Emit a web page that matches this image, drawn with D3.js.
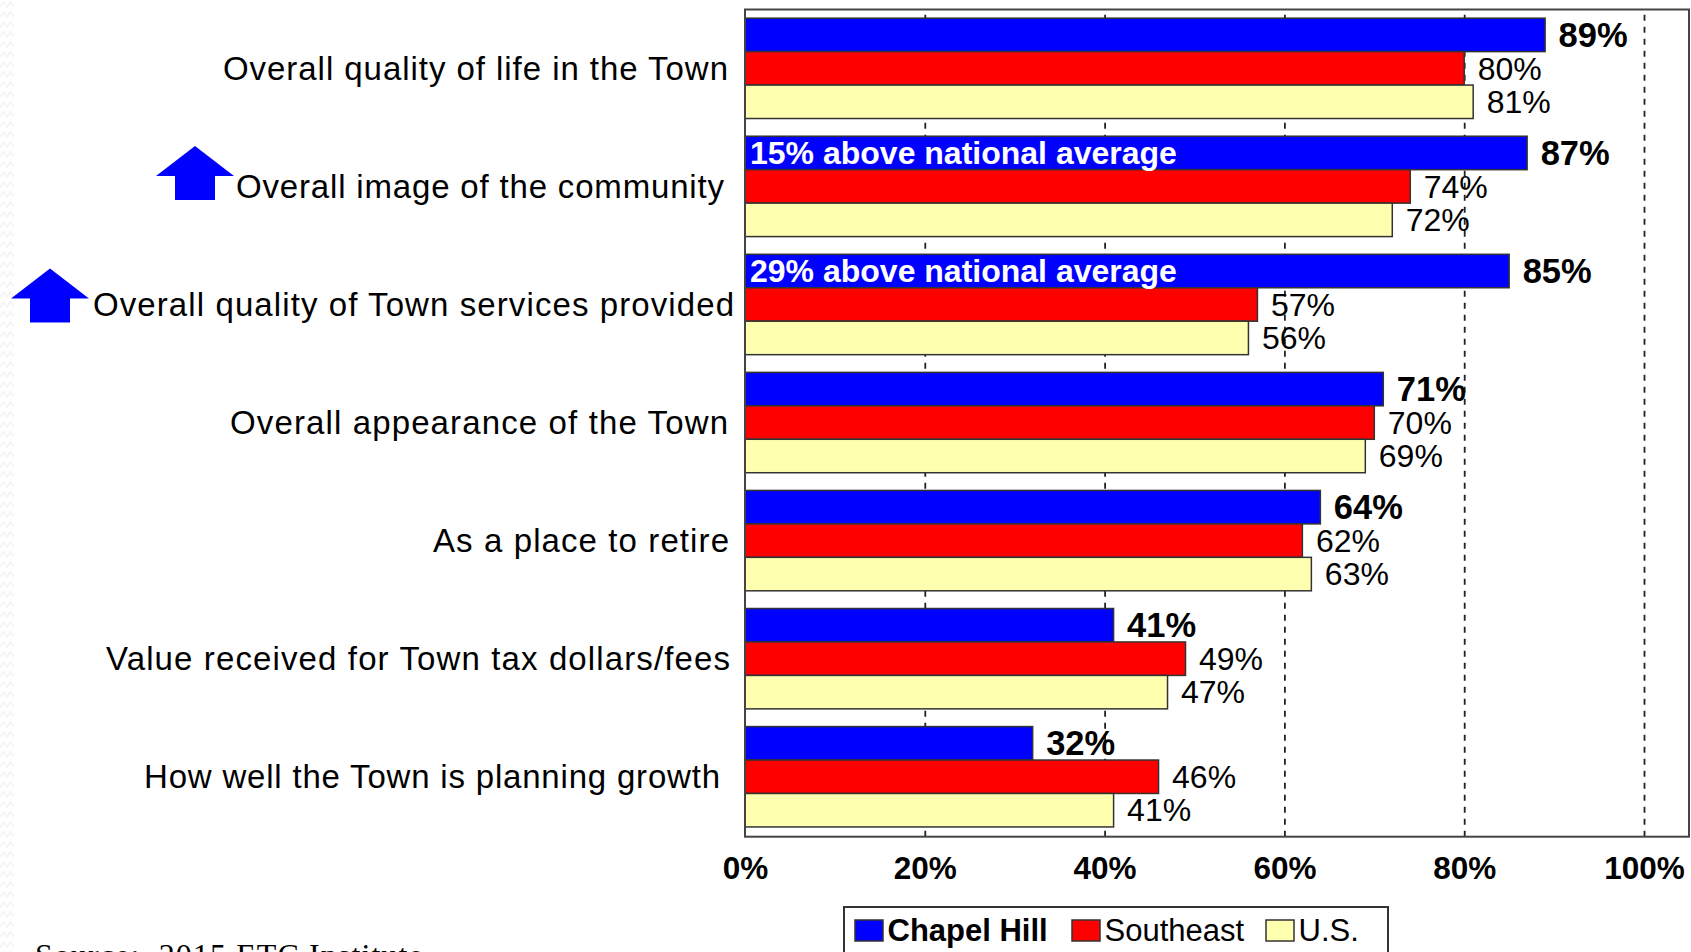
<!DOCTYPE html>
<html>
<head>
<meta charset="utf-8">
<script src="https://cdn.jsdelivr.net/npm/d3@7"></script>
<style>
  html, body { margin: 0; background: #fff; overflow: hidden; }
  text { font-family: "Liberation Sans", Arial, sans-serif; fill: #000; }
</style>
</head>
<body>
<div id="chart"></div>
<script>
// Satisfaction bars, Chapel Hill vs Southeast vs U.S.
const categories = [
  "Overall quality of life in the Town",
  "Overall image of the community",
  "Overall quality of Town services provided",
  "Overall appearance of the Town",
  "As a place to retire",
  "Value received for Town tax dollars/fees",
  "How well the Town is planning growth"
];
const seriesNames = ["Chapel Hill", "Southeast", "U.S."];
const chapelHill = [89, 87, 85, 71, 64, 41, 32];
const southeast = [80, 74, 57, 70, 62, 49, 46];
const us = [81, 72, 56, 69, 63, 47, 41];
const tickValues = [0, 20, 40, 60, 80, 100];
const notes = [
  { category: "Overall image of the community", text: "15% above national average" },
  { category: "Overall quality of Town services provided", text: "29% above national average" }
];
const sourceText = "Source:  2015 ETC Institute";

const colors = ["#0000ff", "#ff0000", "#ffffb0"];
const edge = "#333";

const width = 1691;
const height = 952;
const plot = { left: 745, right: 1689, top: 9.5, bottom: 836.7 };

// category labels do not share one edge or one spacing in the source
const labelLeft = [223, 236, 93, 230, 433, 106, 144];
const labelRight = [728, 724, 734, 728, 729, 730, 720];

const svg = d3.select("#chart").append("svg")
  .attr("width", width)
  .attr("height", height)
  .style("display", "block");

// faint wavy texture down the left edge
const defs = svg.append("defs");
defs.append("pattern")
  .attr("id", "edge-wave")
  .attr("width", 14)
  .attr("height", 10)
  .attr("patternUnits", "userSpaceOnUse")
  .append("path")
  .attr("d", "M0 7 L3.5 2 L7 7 L10.5 2 L14 7")
  .attr("fill", "none")
  .attr("stroke", "#f3f3f3")
  .attr("stroke-width", 1.5);
svg.append("rect")
  .attr("width", 14)
  .attr("height", height)
  .attr("fill", "url(#edge-wave)");

const x = d3.scaleLinear().domain([0, 100]).range([plot.left, plot.left + 899]);
const y = d3.scaleBand()
  .domain(categories)
  .range([plot.top, plot.bottom])
  .paddingInner(0.15)
  .paddingOuter(0.078)
  .align(0.47);
const ySeries = d3.scaleBand().domain(seriesNames).range([0, y.bandwidth()]);

// Gridlines and tick labels
const axis = svg.append("g")
  .attr("transform", `translate(0 ${plot.bottom})`)
  .call(d3.axisBottom(x)
    .tickValues(tickValues)
    .tickFormat(d => d + "%")
    .tickSize(-(plot.bottom - plot.top))
    .tickPadding(20));
axis.select(".domain").remove();
axis.selectAll("line")
  .attr("stroke", "#222")
  .attr("stroke-width", 1.8)
  .attr("stroke-dasharray", "6 6");
axis.selectAll("text")
  .attr("dy", "0.71em")
  .style("font-size", "31.5px")
  .style("font-weight", "bold");
axis.selectAll(".tick").filter(d => d === 0).select("line").remove();

// Bars
const rows = categories.map((c, i) => ({
  category: c,
  values: [chapelHill[i], southeast[i], us[i]]
}));

const groups = svg.append("g")
  .selectAll("g")
  .data(rows)
  .join("g")
  .attr("transform", d => `translate(0 ${y(d.category)})`);

const bars = groups.selectAll("g")
  .data(d => d.values.map((v, i) => ({ name: seriesNames[i], value: v, i })))
  .join("g");

bars.append("rect")
  .attr("x", x(0))
  .attr("y", d => ySeries(d.name))
  .attr("width", d => x(d.value) - x(0))
  .attr("height", ySeries.bandwidth())
  .attr("fill", d => colors[d.i])
  .attr("stroke", edge)
  .attr("stroke-width", 1.5);

bars.append("text")
  .attr("x", d => x(d.value) + 13.5)
  .attr("y", d => ySeries(d.name) + ySeries.bandwidth() / 2)
  .attr("dy", "0.35em")
  .style("font-size", d => d.i === 0 ? "34.5px" : "32px")
  .style("font-weight", d => d.i === 0 ? "bold" : "normal")
  .text(d => d.value + "%");

// Plot frame
svg.append("rect")
  .attr("x", plot.left)
  .attr("y", plot.top)
  .attr("width", plot.right - plot.left)
  .attr("height", plot.bottom - plot.top)
  .attr("fill", "none")
  .attr("stroke", "#444")
  .attr("stroke-width", 2);

// Category labels
svg.append("g")
  .selectAll("text")
  .data(categories)
  .join("text")
  .attr("x", (d, i) => labelLeft[i])
  .attr("y", d => y(d) + y.bandwidth() / 2)
  .attr("dy", "0.35em")
  .attr("textLength", (d, i) => labelRight[i] - labelLeft[i])
  .attr("lengthAdjust", "spacing")
  .style("font-size", "33px")
  .text(d => d);

// White notes inside the blue bars
svg.append("g")
  .selectAll("text")
  .data(notes)
  .join("text")
  .attr("x", x(0) + 5)
  .attr("y", d => y(d.category) + ySeries.bandwidth() / 2)
  .attr("dy", "0.35em")
  .style("font-size", "32px")
  .style("font-weight", "bold")
  .style("fill", "#fff")
  .text(d => d.text);

// Up arrows next to the two flagged labels
const arrowCenter = [195, 50];
const arrowLift = [10.5, 6];
const arrowShape = "M0 -30 L39 0 L20 0 L20 24 L-20 24 L-20 0 L-39 0 Z";
svg.append("g")
  .selectAll("path")
  .data(notes)
  .join("path")
  .attr("transform", (d, i) => `translate(${arrowCenter[i]} ${y(d.category) + y.bandwidth() / 2 - arrowLift[i]})`)
  .attr("d", arrowShape)
  .attr("fill", "#0000ff");

// Legend, runs off the bottom of the slide
const legend = svg.append("g").attr("transform", "translate(844 907)");
legend.append("rect")
  .attr("width", 544)
  .attr("height", 70)
  .attr("fill", "#fff")
  .attr("stroke", edge)
  .attr("stroke-width", 2);

const legendX = [11, 228, 422];
const legendItems = legend.selectAll("g")
  .data(seriesNames)
  .join("g")
  .attr("transform", (d, i) => `translate(${legendX[i]} 13)`);
legendItems.append("rect")
  .attr("width", 28)
  .attr("height", 21)
  .attr("fill", (d, i) => colors[i])
  .attr("stroke", edge)
  .attr("stroke-width", 1.5);
legendItems.append("text")
  .attr("x", 32.5)
  .attr("y", 10)
  .attr("dy", "0.35em")
  .style("font-size", "31px")
  .style("font-weight", (d, i) => i === 0 ? "bold" : "normal")
  .text(d => d);

// Source line, clipped by the slide bottom
svg.append("text")
  .attr("x", 35)
  .attr("y", 966)
  .style("font-family", '"Liberation Serif", "Times New Roman", serif')
  .style("font-size", "32px")
  .style("letter-spacing", "1.1px")
  .style("white-space", "pre")
  .text(sourceText);
</script>
</body>
</html>
